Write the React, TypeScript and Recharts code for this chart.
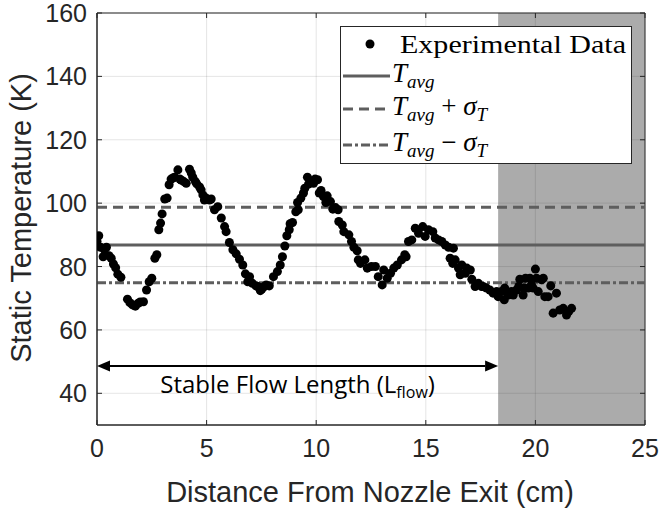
import React from 'react';
import {
  ScatterChart,
  Scatter,
  XAxis,
  YAxis,
  CartesianGrid,
  ReferenceLine,
  ReferenceArea,
} from 'recharts';

// measured positions (cm) and static temperatures (K)
const distanceCm = [
  0.0, 0.08, 0.16, 0.28, 0.34, 0.43, 0.55, 0.65, 0.75, 0.85, 0.95, 1.09, 1.39, 1.5, 1.62, 1.75, 1.88, 1.97,
  2.12, 2.26, 2.38, 2.5, 2.64, 2.73, 2.82, 2.9, 2.97, 3.09, 3.2, 3.29, 3.38, 3.46, 3.54, 3.69, 3.78, 3.84,
  3.96, 4.07, 4.22, 4.3, 4.37, 4.49, 4.55, 4.68, 4.75, 4.83, 4.9, 4.98, 5.13, 5.21, 5.36, 5.51, 5.67, 5.82,
  5.89, 6.04, 6.2, 6.35, 6.5, 6.65, 6.77, 6.88, 6.96, 7.09, 7.25, 7.34, 7.45, 7.52, 7.63, 7.72, 7.86, 8.05,
  8.23, 8.36, 8.46, 8.57, 8.66, 8.77, 8.81, 8.92, 9.07, 9.15, 9.18, 9.3, 9.42, 9.48, 9.6, 9.65, 9.75, 9.88,
  9.95, 10.06, 10.14, 10.22, 10.33, 10.44, 10.5, 10.65, 10.76, 10.88, 11.0, 11.03, 11.19, 11.26, 11.49, 11.61,
  11.72, 11.87, 11.92, 12.02, 12.22, 12.33, 12.52, 12.7, 12.83, 13.01, 13.08, 13.24, 13.39, 13.54, 13.7, 13.89,
  14.04, 14.1, 14.21, 14.36, 14.52, 14.67, 14.86, 14.97, 15.12, 15.32, 15.43, 15.58, 15.73, 15.89, 16.04, 16.11,
  16.23, 16.26, 16.34, 16.49, 16.57, 16.64, 16.8, 16.87, 17.03, 17.1, 17.25, 17.4, 17.55, 17.62, 17.77, 17.92,
  18.07, 18.23, 18.3, 18.45, 18.58, 18.6, 18.76, 18.91, 18.99, 19.14, 19.24, 19.29, 19.44, 19.48, 19.55, 19.67,
  19.75, 19.82, 19.9, 20.0, 20.05, 20.13, 20.28, 20.36, 20.43, 20.58, 20.7, 20.81, 20.96, 21.11, 21.27, 21.42,
  21.52, 21.65,
];
const staticTempK = [
  87.9, 89.7, 86.1, 83.1, 85.3, 86.1, 83.4, 82.6, 80.8, 79.6, 77.6, 76.6, 69.7, 68.6, 67.9, 67.5, 68.4, 68.8,
  68.9, 72.6, 75.2, 76.3, 82.6, 83.7, 91.6, 93.7, 96.6, 101.3, 101.6, 105.8, 107.6, 107.9, 108.2, 110.5, 107.6, 107.3,
  106.8, 106.3, 110.7, 109.5, 108.2, 106.8, 106.1, 105.1, 104.2, 102.6, 101.0, 101.6, 101.0, 101.3, 97.9, 98.9, 95.3, 92.6,
  91.0, 87.6, 85.3, 84.0, 82.3, 80.5, 77.7, 75.2, 76.8, 74.7, 73.9, 73.7, 72.4, 72.9, 73.7, 74.2, 73.9, 76.8,
  78.4, 80.5, 83.1, 86.5, 89.7, 91.6, 93.5, 93.9, 97.3, 100.2, 97.9, 101.6, 103.2, 104.7, 108.2, 106.0, 107.1, 106.3,
  107.6, 107.4, 103.2, 104.0, 102.1, 100.2, 102.3, 100.5, 98.1, 98.6, 97.9, 94.2, 93.1, 91.0, 90.0, 87.9,
  86.1, 85.0, 82.1, 81.0, 82.1, 79.5, 80.0, 80.0, 76.8, 74.2, 78.9, 76.3, 77.9, 79.5, 80.5, 82.1,
  83.7, 83.1, 87.9, 88.4, 92.1, 90.5, 92.6, 89.5, 91.6, 91.0, 89.0, 88.4, 87.9, 86.8, 86.1, 82.6,
  81.0, 85.8, 82.1, 79.5, 77.4, 80.5, 77.9, 79.5, 78.9, 76.0, 73.7, 74.7, 73.7, 73.7, 73.2, 72.6,
  71.6, 72.1, 70.5, 72.1, 69.5, 73.2, 71.0, 72.1, 71.0, 72.6, 73.7, 76.0, 71.0, 73.2, 76.3, 73.2,
  76.3, 74.2, 73.2, 79.2, 76.3, 72.1, 75.8, 76.3, 70.5, 70.5, 73.9, 65.3, 71.6, 66.3, 66.8, 64.7,
  65.8, 66.8,
];

const T_AVG = 86.8;
const T_SIGMA = 11.9;
const STABLE_END = 18.3;
const ARROW_Y = 48.6;

const xTicks = [0, 5, 10, 15, 20, 25];
const yTicks = [40, 60, 80, 100, 120, 140, 160];
const shadedYTicks = [40, 60, 80, 100, 120, 140];

const points = distanceCm.map((x, i) => ({ x, y: staticTempK[i] }));

const AXIS_COLOR = '#262626';
const LINE_COLOR = '#5e5e5e';
const SANS = '"Liberation Sans", Arial, Helvetica, sans-serif';
const SERIF = '"Liberation Serif", "Times New Roman", serif';

// plot box edges (match chart margins / axis sizes below)
const PLOT_TOP = 13;
const PLOT_BOTTOM = 425;
const PLOT_LEFT = 97;
const PLOT_RIGHT = 645;
const TICK_LEN = 5;

const XTick = (props: any) => {
  const { x, y, payload } = props;
  return (
    <g>
      <line x1={x} y1={PLOT_BOTTOM} x2={x} y2={PLOT_BOTTOM - TICK_LEN} stroke={AXIS_COLOR} />
      <line x1={x} y1={PLOT_TOP} x2={x} y2={PLOT_TOP + TICK_LEN} stroke={AXIS_COLOR} />
      <text x={x} y={y} dy={18} textAnchor="middle" fontFamily={SANS} fontSize={25} fill={AXIS_COLOR}>
        {payload.value}
      </text>
    </g>
  );
};

const YTick = (props: any) => {
  const { x, y, payload } = props;
  return (
    <g>
      <line x1={PLOT_LEFT} y1={y} x2={PLOT_LEFT + TICK_LEN} y2={y} stroke={AXIS_COLOR} />
      <line x1={PLOT_RIGHT} y1={y} x2={PLOT_RIGHT - TICK_LEN} y2={y} stroke={AXIS_COLOR} />
      <text x={x} y={y} dy={9} textAnchor="end" fontFamily={SANS} fontSize={25} fill={AXIS_COLOR}>
        {payload.value}
      </text>
    </g>
  );
};

const XTitle = () => (
  <text x={370} y={502} textAnchor="middle" fontFamily={SANS} fontSize={29} fill={AXIS_COLOR}>
    Distance From Nozzle Exit (cm)
  </text>
);

const YTitle = () => (
  <text
    transform="rotate(-90)"
    x={-218}
    y={31}
    textAnchor="middle"
    fontFamily={SANS}
    fontSize={29}
    fill={AXIS_COLOR}
  >
    Static Temperature (K)
  </text>
);

const FlowArrow = (props: any) => {
  const { x1, y1, x2 } = props;
  const head = 13;
  const half = 5.5;
  return (
    <g>
      <line x1={x1 + head} y1={y1} x2={x2 - head} y2={y1} stroke="#000" strokeWidth={2} />
      <polygon points={`${x1},${y1} ${x1 + head},${y1 - half} ${x1 + head},${y1 + half}`} fill="#000" />
      <polygon points={`${x2},${y1} ${x2 - head},${y1 - half} ${x2 - head},${y1 + half}`} fill="#000" />
      <text
        x={(x1 + x2) / 2}
        y={y1 + 27}
        textAnchor="middle"
        fontFamily='"Open Sans", "Noto Sans", sans-serif'
        fontSize={24}
        fill="#000"
      >
        Stable Flow Length (L
        <tspan fontSize={16} dy={5}>flow</tspan>
        <tspan dy={-5}>)</tspan>
      </text>
    </g>
  );
};

const MathT = ({ x, y, suffix }: { x: number; y: number; suffix?: 'plus' | 'minus' }) => (
  <text x={x} y={y} fontFamily={SERIF} fontSize={27} fill="#000">
    <tspan fontStyle="italic">T</tspan>
    <tspan fontStyle="italic" fontSize={19} dy={6}>avg</tspan>
    {suffix && (
      <>
        <tspan dy={-6}>{suffix === 'plus' ? ' + ' : ' \u2212 '}</tspan>
        <tspan fontStyle="italic">σ</tspan>
        <tspan fontStyle="italic" fontSize={19} dy={6}>T</tspan>
      </>
    )}
  </text>
);

const LegendBox = () => (
  <svg width={293} height={139} style={{ position: 'absolute', left: 340, top: 26 }}>
    <rect x={0.5} y={0.5} width={291} height={137} fill="#fff" stroke={AXIS_COLOR} strokeWidth={1} />
    <circle cx={30} cy={18} r={4.5} fill="#000" />
    <text x={60} y={27} fontFamily={SERIF} fontSize={26} fill="#000" textLength={226} lengthAdjust="spacingAndGlyphs">
      Experimental Data
    </text>
    <line x1={3} y1={50} x2={50} y2={50} stroke={LINE_COLOR} strokeWidth={3} />
    <MathT x={52} y={56} />
    <line x1={3} y1={83} x2={50} y2={83} stroke={LINE_COLOR} strokeWidth={3} strokeDasharray="10 6" />
    <MathT x={52} y={89} suffix="plus" />
    <line x1={3} y1={119} x2={50} y2={119} stroke={LINE_COLOR} strokeWidth={3} strokeDasharray="9 3 3 3" />
    <MathT x={52} y={125} suffix="minus" />
  </svg>
);

export default function App() {
  return (
    <div style={{ position: 'absolute', left: 0, top: 0, width: 660, height: 514, background: '#fff' }}>
      <ScatterChart width={660} height={514} margin={{ top: 13, right: 15, bottom: 0, left: 0 }}>
        <CartesianGrid stroke={AXIS_COLOR} strokeOpacity={0.12} horizontalValues={yTicks} verticalValues={xTicks} />
        <XAxis
          type="number"
          dataKey="x"
          domain={[0, 25]}
          ticks={xTicks}
          allowDataOverflow
          height={89}
          tickSize={0}
          tickMargin={14}
          tickLine={false}
          axisLine={{ stroke: AXIS_COLOR }}
          tick={<XTick />}
          label={<XTitle />}
        />
        <YAxis
          type="number"
          dataKey="y"
          domain={[30, 160]}
          ticks={yTicks}
          allowDataOverflow
          width={97}
          tickSize={0}
          tickMargin={10}
          tickLine={false}
          axisLine={{ stroke: AXIS_COLOR }}
          tick={<YTick />}
          label={<YTitle />}
        />
        <ReferenceArea x1={STABLE_END} x2={25} y1={30} y2={160} fill="#ababab" fillOpacity={1} stroke="none" />
        {shadedYTicks.map((t) => (
          <ReferenceLine
            key={t}
            segment={[{ x: STABLE_END, y: t }, { x: 25, y: t }]}
            stroke={AXIS_COLOR}
            strokeOpacity={0.12}
          />
        ))}
        <ReferenceLine x={20} stroke={AXIS_COLOR} strokeOpacity={0.12} />
        <ReferenceLine y={T_AVG} stroke={LINE_COLOR} strokeWidth={3} />
        <ReferenceLine y={T_AVG + T_SIGMA} stroke={LINE_COLOR} strokeWidth={3} strokeDasharray="10 6" />
        <ReferenceLine y={T_AVG - T_SIGMA} stroke={LINE_COLOR} strokeWidth={3} strokeDasharray="9 3 3 3" />
        <ReferenceLine
          segment={[{ x: 0, y: ARROW_Y }, { x: STABLE_END, y: ARROW_Y }]}
          shape={<FlowArrow />}
        />
        <Scatter data={points} fill="#000" isAnimationActive={false} shape="circle" legendType="circle" />
        <ReferenceArea x1={0} x2={25} y1={30} y2={160} fill="none" stroke={AXIS_COLOR} strokeWidth={1} />
      </ScatterChart>
      <LegendBox />
    </div>
  );
}
